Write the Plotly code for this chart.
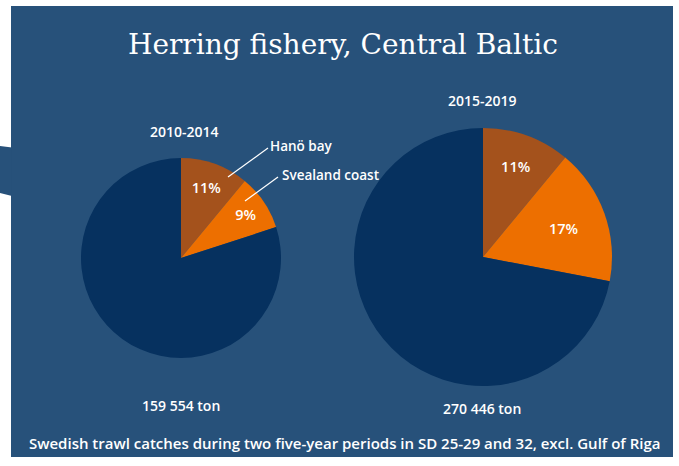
import plotly.graph_objects as go

W, H = 679, 466

# slice order: Hanö bay, Svealand coast, rest of the catch
segments = ["Hanö bay", "Svealand coast", "Other"]
share_2010_2014 = [11, 9, 80]
share_2015_2019 = [11, 17, 72]
periods = ["2010-2014", "2015-2019"]
totals = ["159 554 ton", "270 446 ton"]

PANEL = "#27517a"
COLORS = ["#a4521c", "#ed6f00", "#06315f"]
SANS = "Open Sans"


def px(x):
    return x / W


def py(y):
    return 1 - y / H


def pie_domain(cx, cy, r):
    return {"x": [px(cx - r), px(cx + r)], "y": [py(cy + r), py(cy - r)]}


fig = go.Figure()
for values, dom in [
    (share_2010_2014, pie_domain(181, 258, 100)),
    (share_2015_2019, pie_domain(483, 257, 129)),
]:
    fig.add_trace(
        go.Pie(
            labels=segments,
            values=values,
            sort=False,
            direction="clockwise",
            rotation=0,
            domain=dom,
            marker={"colors": COLORS, "line": {"width": 0}},
            texttemplate=["%{percent:.0%}", "%{percent:.0%}", ""],
            textposition="inside",
            insidetextorientation="horizontal",
            insidetextfont={"family": SANS, "size": 14.5, "color": "white", "weight": 600},
            showlegend=False,
            hoverinfo="label+percent",
        )
    )


def note(text, x, y, size=14, family=SANS, weight=600):
    fig.add_annotation(
        text=text, x=px(x), y=py(y), xref="paper", yref="paper",
        showarrow=False, xanchor="center", yanchor="middle",
        font={"family": family, "size": size, "color": "white", "weight": weight},
    )


note("Herring fishery, Central Baltic", 343, 45, size=28, family="DejaVu Serif", weight=300)
note(periods[0], 185, 131)
note(periods[1], 482, 100)
note(totals[0], 181, 405)
note(totals[1], 482, 408)
note("Swedish trawl catches during two five-year periods in SD 25-29 and 32, excl. Gulf of Riga",
     344, 443, size=15)
note(segments[0], 301, 146, size=13.5)
note(segments[1], 330, 175, size=13.5)

shapes = [
    {"type": "rect", "x0": px(11), "x1": px(673), "y0": py(457), "y1": py(6),
     "fillcolor": PANEL, "line": {"width": 0}, "layer": "below"},
    {"type": "path", "path": "M 0 %f L %f %f L %f %f L 0 %f Z" % (
        py(146), px(12), py(147.5), px(12), py(196), py(193)),
     "fillcolor": PANEL, "line": {"width": 0}, "layer": "below"},
    {"type": "line", "x0": px(228), "y0": py(177), "x1": px(268), "y1": py(148),
     "line": {"color": "white", "width": 1.2}},
    {"type": "line", "x0": px(245), "y0": py(201), "x1": px(278), "y1": py(177),
     "line": {"color": "white", "width": 1.2}},
]
for s in shapes:
    s.update({"xref": "paper", "yref": "paper"})

fig.update_layout(
    width=W,
    height=H,
    margin={"l": 0, "r": 0, "t": 0, "b": 0},
    paper_bgcolor="white",
    plot_bgcolor="white",
    shapes=shapes,
)

# the page body keeps its default 8px margin otherwise
fig.write_html(
    "out.html",
    config={"displayModeBar": False},
    post_script="document.body.style.margin = '0';",
)
